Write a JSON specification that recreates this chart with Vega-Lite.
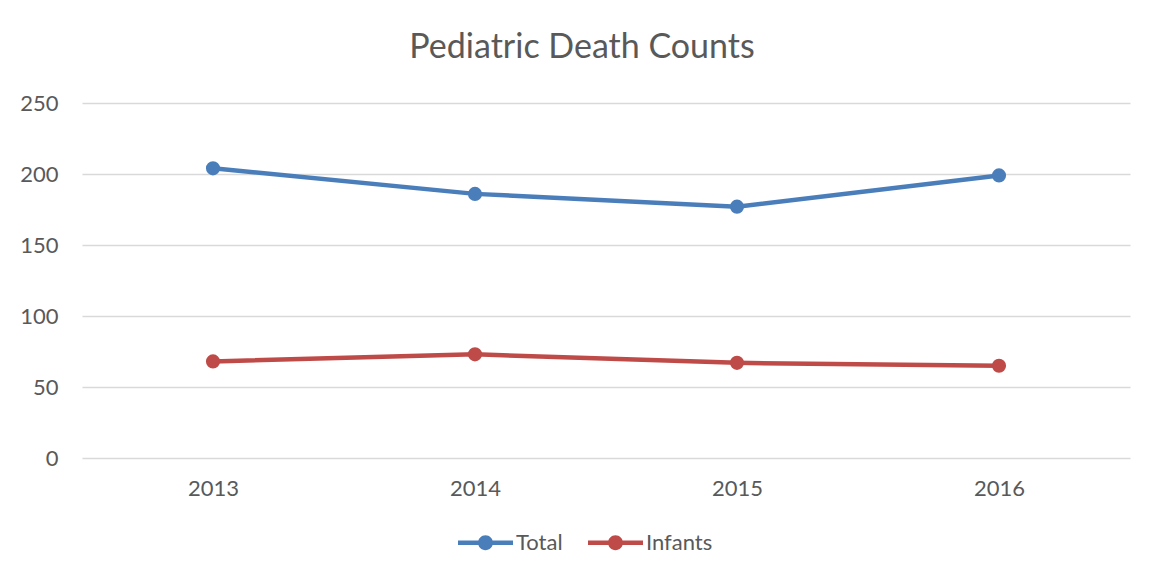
{
  "$schema": "https://vega.github.io/schema/vega-lite/v6.json",
  "width": 1048,
  "height": 355,
  "autosize": {"type": "none"},
  "padding": {"left": 82, "top": 103, "right": 22, "bottom": 121},
  "background": "white",
  "title": {
    "text": "Pediatric Death Counts",
    "anchor": "middle",
    "dx": -24,
    "offset": 27,
    "font": "Lato",
    "fontSize": 34,
    "fontWeight": "normal",
    "color": "#595959"
  },
  "data": {
    "values": [
      {"year": "2013", "series": "Total", "count": 204},
      {"year": "2014", "series": "Total", "count": 186},
      {"year": "2015", "series": "Total", "count": 177},
      {"year": "2016", "series": "Total", "count": 199},
      {"year": "2013", "series": "Infants", "count": 68},
      {"year": "2014", "series": "Infants", "count": 73},
      {"year": "2015", "series": "Infants", "count": 67},
      {"year": "2016", "series": "Infants", "count": 65}
    ]
  },
  "encoding": {
    "x": {
      "field": "year",
      "type": "ordinal",
      "scale": {"type": "point", "padding": 0.5},
      "axis": {
        "title": null,
        "labelAngle": 0,
        "ticks": false,
        "domain": false,
        "labelPadding": 20,
        "labelFont": "Lato",
        "labelFontSize": 22,
        "labelColor": "#595959",
        "grid": false
      }
    },
    "y": {
      "field": "count",
      "type": "quantitative",
      "scale": {"domain": [0, 250]},
      "axis": {
        "title": null,
        "values": [0, 50, 100, 150, 200, 250],
        "ticks": false,
        "domain": false,
        "labelPadding": 24,
        "labelFont": "Lato",
        "labelFontSize": 22,
        "labelColor": "#595959",
        "gridColor": "#d9d9d9",
        "gridWidth": 1.3
      }
    },
    "color": {
      "field": "series",
      "type": "nominal",
      "scale": {"domain": ["Total", "Infants"], "range": ["#4A7EBB", "#BE4B48"]},
      "legend": {
        "title": null,
        "orient": "none",
        "direction": "horizontal",
        "legendX": 376,
        "legendY": 412,
        "padding": 0,
        "symbolType": "M-1,-0.082H1V0.082H-1Z M0.27,0 A0.27,0.27 0 1,1 -0.27,0 A0.27,0.27 0 1,1 0.27,0Z",
        "symbolSize": 3025,
        "symbolStrokeWidth": 0,
        "symbolOpacity": 1,
        "labelFont": "Lato",
        "labelFontSize": 22,
        "labelColor": "#595959",
        "labelOffset": 3,
        "columnPadding": 25
      }
    }
  },
  "layer": [
    {"mark": {"type": "line", "strokeWidth": 4.5, "strokeCap": "round"}},
    {"mark": {"type": "circle", "size": 200, "opacity": 1}}
  ],
  "config": {"view": {"stroke": null}}
}
